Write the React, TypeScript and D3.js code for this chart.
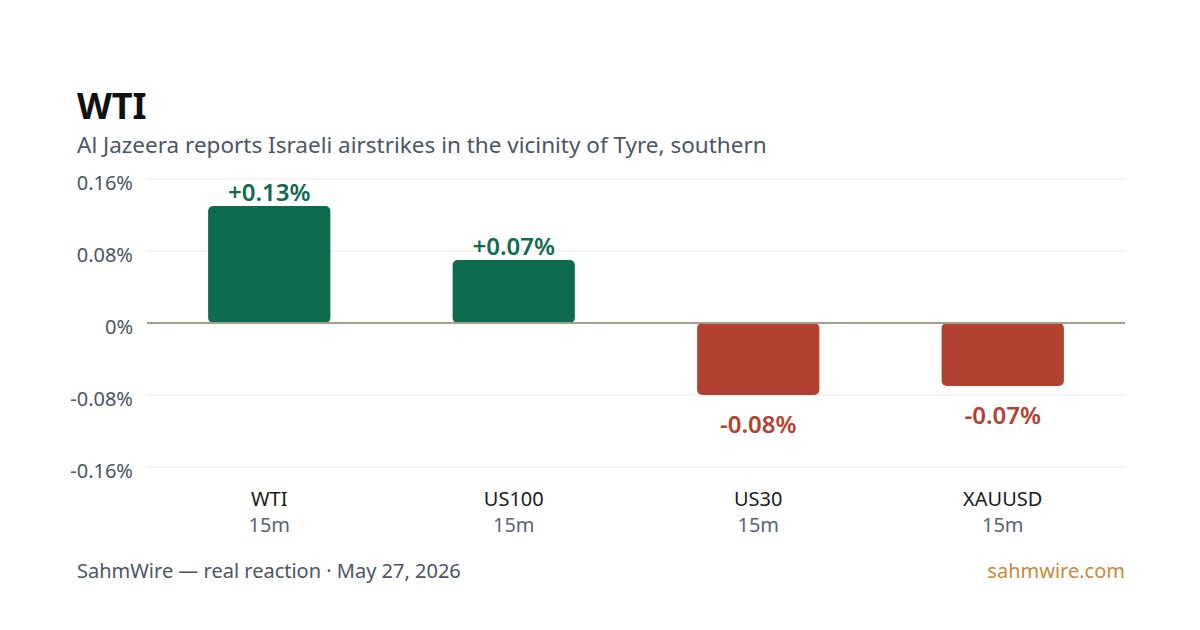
import React from "react";
import * as d3 from "d3";

const categories = ["WTI", "US100", "US30", "XAUUSD"];
const timeframes = ["15m", "15m", "15m", "15m"];
const changes = [0.13, 0.07, -0.08, -0.07];
const yTicks = [0.16, 0.08, 0, -0.08, -0.16];

const W = 1200;
const H = 630;
const FONT = "'Noto Sans', 'Open Sans', sans-serif";
const UP = "#0f6b50";
const DOWN = "#b34130";

export default function App() {
  const x = d3
    .scaleBand<string>()
    .domain(categories)
    .range([147, 1125])
    .paddingInner(0.5)
    .paddingOuter(0.25);
  const y = d3.scaleLinear().domain([-0.16, 0.16]).range([467, 179]);
  const fmtTick = (v: number) => (v === 0 ? "0%" : `${v < 0 ? "-" : ""}${Math.abs(v).toFixed(2)}%`);
  const fmtVal = (v: number) => `${v > 0 ? "+" : "-"}${Math.abs(v).toFixed(2)}%`;

  return (
    <svg
      width={W}
      height={H}
      viewBox={`0 0 ${W} ${H}`}
      style={{ position: "absolute", left: 0, top: 0, background: "#fff" }}
      fontFamily={FONT}
    >
      <rect width={W} height={H} fill="#fff" />
      <text x={77} y={119} fontSize={36} fontWeight={700} fill="#111">
        WTI
      </text>
      <text x={77} y={153} fontSize={22.5} fill="#4b5563">
        Al Jazeera reports Israeli airstrikes in the vicinity of Tyre, southern
      </text>

      {yTicks.map((t) => (
        <g key={t}>
          {t !== 0 && (
            <line x1={147} x2={1125} y1={y(t)} y2={y(t)} stroke="#eee8da" strokeWidth={1} />
          )}
          <text x={133} y={y(t) + 11} textAnchor="end" fontSize={20} fill="#4b5563">
            {fmtTick(t)}
          </text>
        </g>
      ))}

      {categories.map((c, i) => {
        const v = changes[i];
        const x0 = x(c)!;
        const bw = x.bandwidth();
        const top = Math.min(y(v), y(0));
        const h = Math.abs(y(v) - y(0));
        const color = v >= 0 ? UP : DOWN;
        const cx = x0 + bw / 2;
        return (
          <g key={c}>
            <rect x={x0} y={top} width={bw} height={h} rx={5} ry={5} fill={color} />
            <text
              x={cx}
              y={v >= 0 ? y(v) - 5 : y(v) + 38}
              textAnchor="middle"
              fontSize={24}
              fontWeight={600}
              fill={color}
            >
              {fmtVal(v)}
            </text>
            <text x={cx} y={506} textAnchor="middle" fontSize={20} fill="#1a1a1a">
              {c}
            </text>
            <text x={cx} y={532} textAnchor="middle" fontSize={20} fill="#5a6472">
              {timeframes[i]}
            </text>
          </g>
        );
      })}

      <line x1={147} x2={1125} y1={y(0)} y2={y(0)} stroke="#a39d8c" strokeWidth={2} />

      <text x={77} y={578} fontSize={20} fill="#4b5563">
        SahmWire — real reaction · May 27, 2026
      </text>
      <text x={1125} y={578} textAnchor="end" fontSize={20} fill="#c8893a">
        sahmwire.com
      </text>
    </svg>
  );
}
